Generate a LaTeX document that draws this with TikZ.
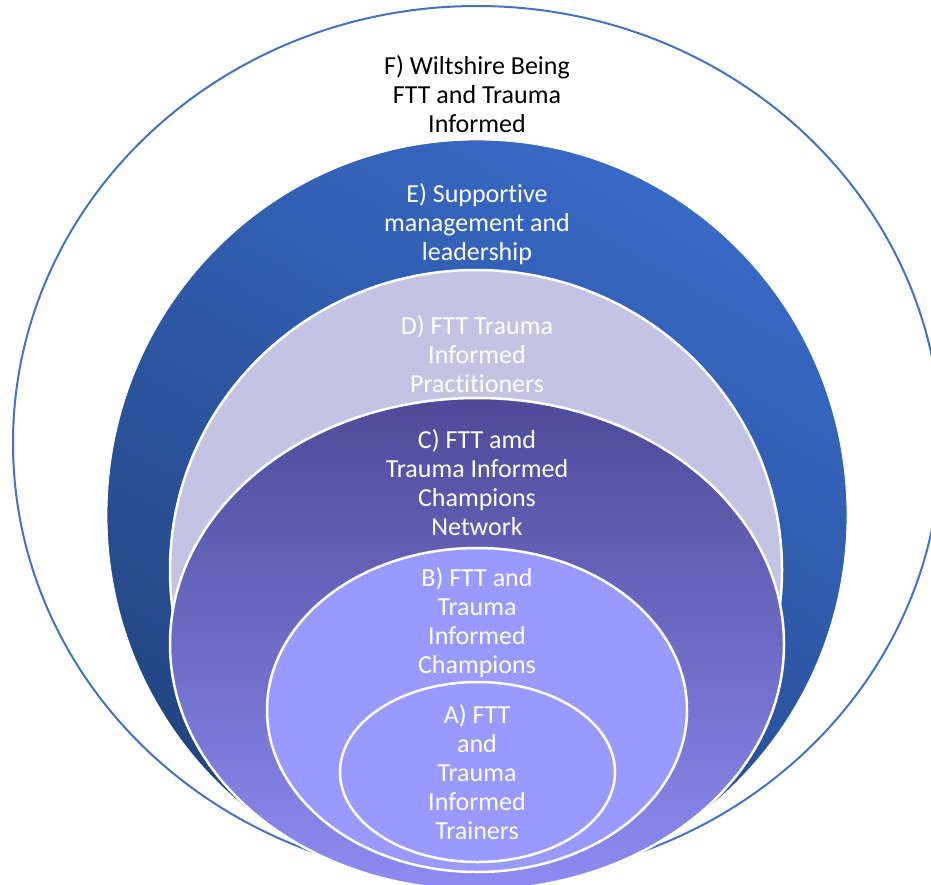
\documentclass[tikz,border=0pt]{standalone}
\usepackage{fontspec}
\setmainfont{Carlito}[Ligatures=NoCommon]
\definecolor{fline}{HTML}{4472C4}
\definecolor{etop}{HTML}{3869C6}
\definecolor{ebot}{HTML}{22447F}
\definecolor{dfill}{HTML}{C5C3E4}
\definecolor{ctop}{HTML}{4E4A98}
\definecolor{cbot}{HTML}{8E8CF2}
\definecolor{bfill}{HTML}{9999FF}
\begin{document}
\begin{tikzpicture}[x=1pt,y=-1pt,
  ring/.style={draw=white,line width=2.5pt},
  lbl/.style={align=center,font=\fontsize{26}{29}\selectfont,inner sep=0pt,text=white}]
\useasboundingbox (0,0) rectangle (931,884);
\clip (0,0) rectangle (931,884);
\fill[white] (0,0) rectangle (931,884);
% F
\draw[draw=fline,line width=2pt,fill=white] (477,443) ellipse [x radius=464pt,y radius=437pt];
% E
\shadedraw[draw=white,line width=0.8pt,top color=etop,bottom color=ebot,shading angle=-30] (477,515) ellipse [x radius=370pt,y radius=375pt];
% D
\draw[ring,fill=dfill] (476,570) ellipse [x radius=306pt,y radius=300pt];
% C
\shadedraw[ring,top color=ctop,bottom color=cbot] (477,644) ellipse [x radius=307pt,y radius=246pt];
% B
\draw[ring,fill=bfill] (477,710) ellipse [x radius=210pt,y radius=162pt];
% A
\draw[ring,fill=bfill] (477.5,772) ellipse [x radius=137.5pt,y radius=90pt];
% labels
\node[lbl,text=black] (tF) at (477,94) {F) Wiltshire Being\\FTT and Trauma\\Informed};
\node[lbl] (tE) at (477,224) {E) Supportive\\management and\\leadership};
\node[lbl] (tD) at (477,354) {D) FTT Trauma\\Informed\\Practitioners};
\node[lbl] (tC) at (477,483) {C) FTT amd\\Trauma Informed\\Champions\\Network};
\node[lbl] (tB) at (477,623) {B) FTT and\\Trauma\\Informed\\Champions};
\node[lbl] (tA) at (477,772) {A) FTT\\and\\Trauma\\Informed\\Trainers};
\end{tikzpicture}
\end{document}
